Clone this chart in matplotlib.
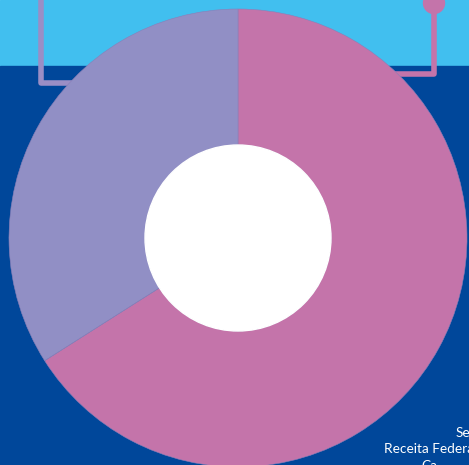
import matplotlib.pyplot as plt
from matplotlib.patches import Circle

# shares of the two slices (pink first, clockwise from the top)
labels = ['Rosa', 'Lilás']
shares = [66, 34]
colors = ['#c474aa', '#918fc5']

note_lines = ['Se', 'Receita Federa', 'Ca']

W, H = 469, 465

fig = plt.figure(figsize=(W / 100, H / 100), dpi=100)
ax = fig.add_axes([0, 0, 1, 1])
ax.set_xlim(0, W)
ax.set_ylim(H, 0)
ax.axis('off')

# background bands
ax.axhspan(0, 66, color='#41bfef', zorder=0)
ax.axhspan(66, H, color='#00479a', zorder=0)

# frame lines behind the ring
ax.plot([41, 41, 200], [0, 83, 83], color='#9a8ec5', lw=4, solid_capstyle='butt', zorder=1)
ax.plot([300, 434, 434], [74.5, 74.5, 3], color='#c474aa', lw=4, solid_capstyle='butt', zorder=1)
ax.add_patch(Circle((434, 3), 10.5, color='#c474aa', zorder=1))

# ring drawn in its own axes so the pie keeps its normal orientation
cx, cy, r = 238, 238, 229
pax = fig.add_axes([(cx - r) / W, (H - cy - r) / H, 2 * r / W, 2 * r / H])
pax.pie(shares, colors=colors, startangle=90, counterclock=False, radius=1,
        wedgeprops=dict(width=1 - 93 / 229, edgecolor='#8a7fb8', linewidth=0.4))
pax.add_patch(Circle((0, 0), 93 / 229, color='white', zorder=5))
pax.set_xlim(-1, 1)
pax.set_ylim(-1, 1)
pax.set_aspect('auto')
pax.axis('off')

# source note, cut off by the right edge
ax.text(456, 437, note_lines[0], color='white', fontsize=9.8, family='Lato', zorder=6)
ax.text(384, 453, note_lines[1], color='white', fontsize=9.8, family='Lato', zorder=6)
ax.text(421, 470, note_lines[2], color='white', fontsize=9.8, family='Lato', zorder=6)

fig.savefig('out.png', dpi=100)
